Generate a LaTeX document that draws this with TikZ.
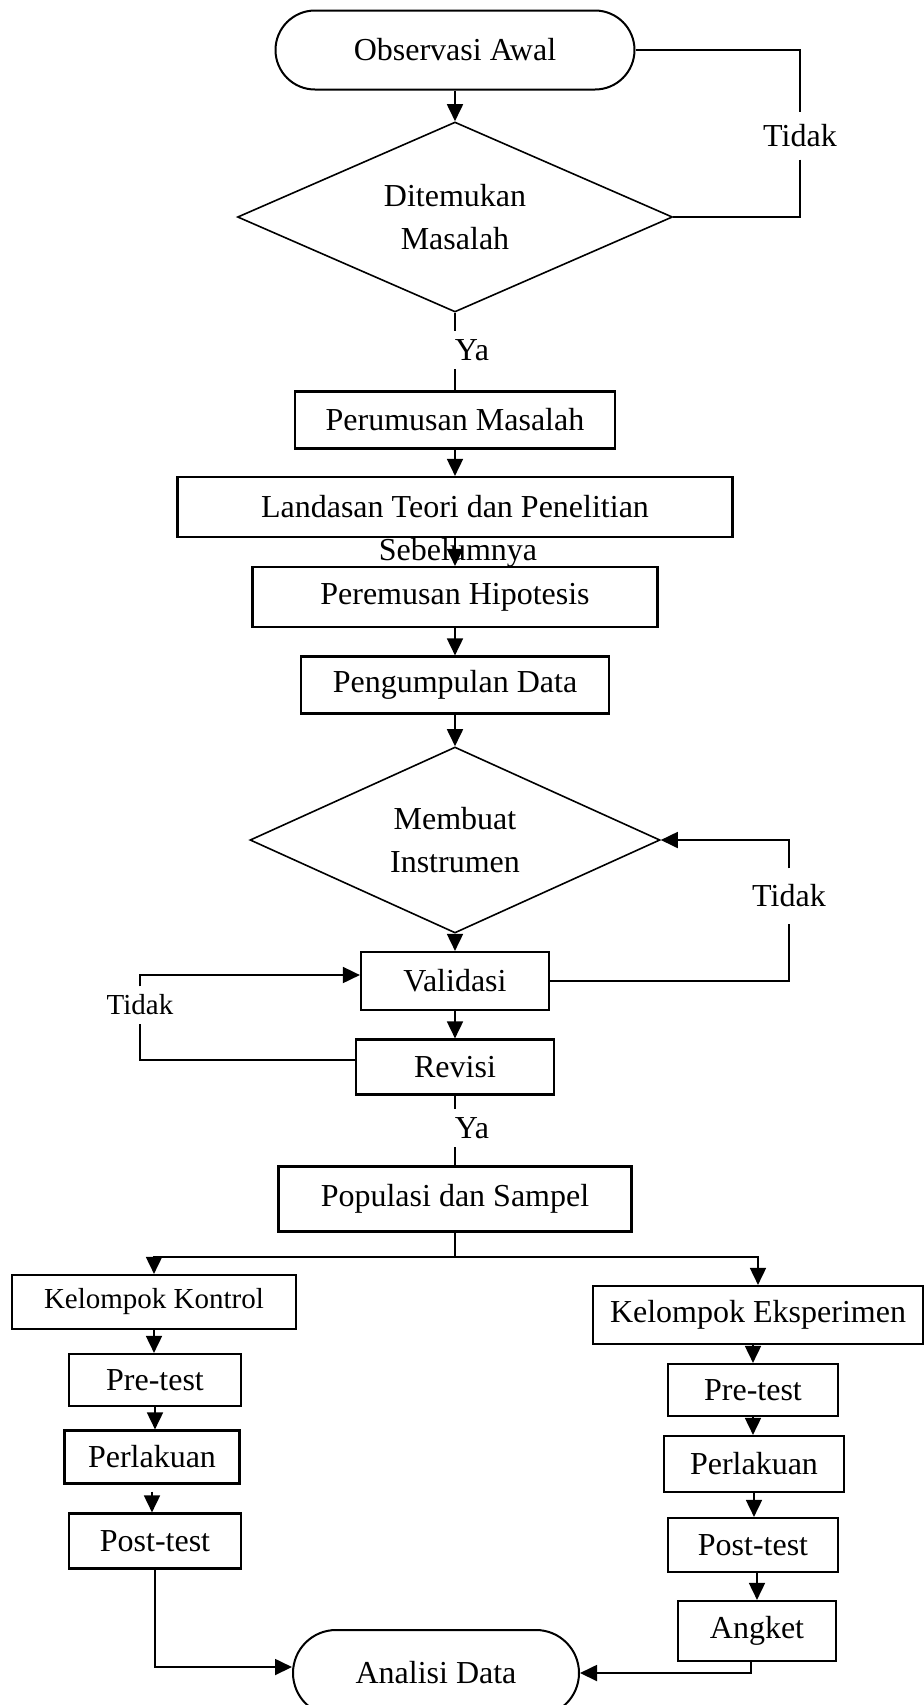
\documentclass[tikz,border=0pt]{standalone}
\usepackage{fontspec}
\setmainfont{Liberation Serif}
\usetikzlibrary{shapes.geometric,shapes.misc,arrows.meta,calc}
\begin{document}
\begin{tikzpicture}[x=0.5pt,y=-0.5pt,
  every node/.style={font=\fontsize{16}{21.5}\selectfont, inner sep=0pt},
  box/.style={draw, line width=1.1pt, rectangle, align=center},
  term/.style={draw, line width=1pt, rounded rectangle},
  dec/.style={draw, line width=0.8pt, diamond, aspect=2.3, align=center},
  lbl/.style={inner sep=4pt},
  small/.style={font=\fontsize{14.5}{17}\selectfont},
  conn/.style={line width=0.9pt},
  arr/.style={line width=0.9pt, -{Triangle[length=8.5pt,width=8pt]}}
]
\fill[white] (0,0) rectangle (923,1705);
\useasboundingbox (0,0) rectangle (923,1705);

% main column
\node[term, minimum width=179.5pt, minimum height=39.5pt] (obs) at (455,50) {Observasi Awal};
\node[dec, minimum width=217.5pt, minimum height=95pt] (d1) at (455,217) {Ditemukan\\Masalah};
\node[lbl, inner sep=6pt] (t1) at (800,136) {Tidak};
\node[lbl] (ya1) at (472,350) {Ya};
\node[box, minimum width=160pt, minimum height=28.5pt] (pm) at (455,420) {Perumusan Masalah};
\node[box, minimum width=277.5pt, minimum height=30pt] (land) at (455,507) {Landasan Teori dan Penelitian};
\node (seb) at (458,553) {Sebelumnya};
\node[box, minimum width=202.5pt, minimum height=30pt] (pe) at (455,597) {Peremusan Hipotesis};
\node[box, minimum width=154pt, minimum height=28.5pt] (pg) at (455,685) {Pengumpulan Data};
\node[dec, minimum width=205pt, minimum height=93pt] (d2) at (455,840) {Membuat\\Instrumen};
\node[lbl, inner sep=8pt] (t2) at (789,896) {Tidak};
\node[box, minimum width=94pt, minimum height=29pt] (va) at (455,981) {Validasi};
\node[box, minimum width=99pt, minimum height=27.5pt] (rv) at (455,1067) {Revisi};
\node[lbl, small, inner sep=4pt] (t3) at (140,1005) {Tidak};
\node[lbl] (ya2) at (472,1128) {Ya};
\node[box, minimum width=176.5pt, minimum height=32.5pt] (pp) at (455,1199) {Populasi dan Sampel};

% left column
\node[box, small, minimum width=142pt, minimum height=27pt] (kk) at (154,1302) {Kelompok Kontrol};
\node[box, minimum width=86pt, minimum height=26pt] (kpre) at (155,1380) {Pre-test};
\node[box, minimum width=87.5pt, minimum height=26.5pt] (kper) at (152,1457) {Perlakuan};
\node[box, minimum width=86pt, minimum height=27.5pt] (kpost) at (155,1541) {Post-test};

% right column
\node[box, minimum width=165pt, minimum height=29pt] (ke) at (758,1315) {Kelompok Eksperimen};
\node[box, minimum width=85pt, minimum height=26pt] (kepre) at (753,1390) {Pre-test};
\node[box, minimum width=90pt, minimum height=28pt] (keper) at (754,1464) {Perlakuan};
\node[box, minimum width=85pt, minimum height=27pt] (kepost) at (753,1545) {Post-test};
\node[box, minimum width=79pt, minimum height=30pt] (ang) at (757,1631) {Angket};

\node[term, minimum width=143pt, minimum height=43pt] (ad) at (436,1673) {Analisi Data};

% connectors main column
\draw[arr] (obs.south) -- (d1.north);
\draw[conn] (obs.east) -| (t1.north);
\draw[conn] (t1.south) |- (d1.east);
\draw[conn] (d1.south) -- (d1.south |- ya1.north);
\draw[conn] (d1.south |- ya1.south) -- (pm.north);
\draw[arr] (pm.south) -- (land.north);
\draw[arr] (land.south) -- (pe.north);
\draw[arr] (pe.south) -- (pg.north);
\draw[arr] (pg.south) -- (d2.north);
\draw[arr] (d2.south) -- (va.north);
\draw[conn] (va.east) -| (t2.south);
\draw[arr] (t2.north) |- (d2.east);
\draw[arr] (va.south) -- (rv.north);
\draw[conn] ($(rv.west)+(0,-7)$) -| (t3.south);
\draw[arr] (t3.north) |- ($(va.west)+(0,-6)$);
\draw[conn] (rv.south) -- (rv.south |- ya2.north);
\draw[conn] (rv.south |- ya2.south) -- (pp.north);

% split
\coordinate (sp) at (455,1257);
\draw[conn] (pp.south) -- (sp);
\draw[arr] (sp) -| (kk.north);
\draw[arr] (sp) -| (ke.north);

% left column connectors
\draw[arr] (kk.south) -- (kk.south |- kpre.north);
\draw[arr] (kpre.south) -- (kpre.south |- kper.north);
\draw[arr, shorten <=3.5pt] (kper.south) -- (kper.south |- kpost.north);
\draw[arr] (kpost.south) |- ($(ad.west)+(0,-6)$);

% right column connectors
\draw[arr] (ke.south -| kepre.north) -- (kepre.north);
\draw[arr] (kepre.south) -- (kepre.south |- keper.north);
\draw[arr] (keper.south) -- (keper.south |- kepost.north);
\draw[arr] (kepost.south -| ang.north) -- (ang.north);
\draw[arr] ($(ang.south)+(-6,0)$) |- (ad.east);
\end{tikzpicture}
\end{document}
